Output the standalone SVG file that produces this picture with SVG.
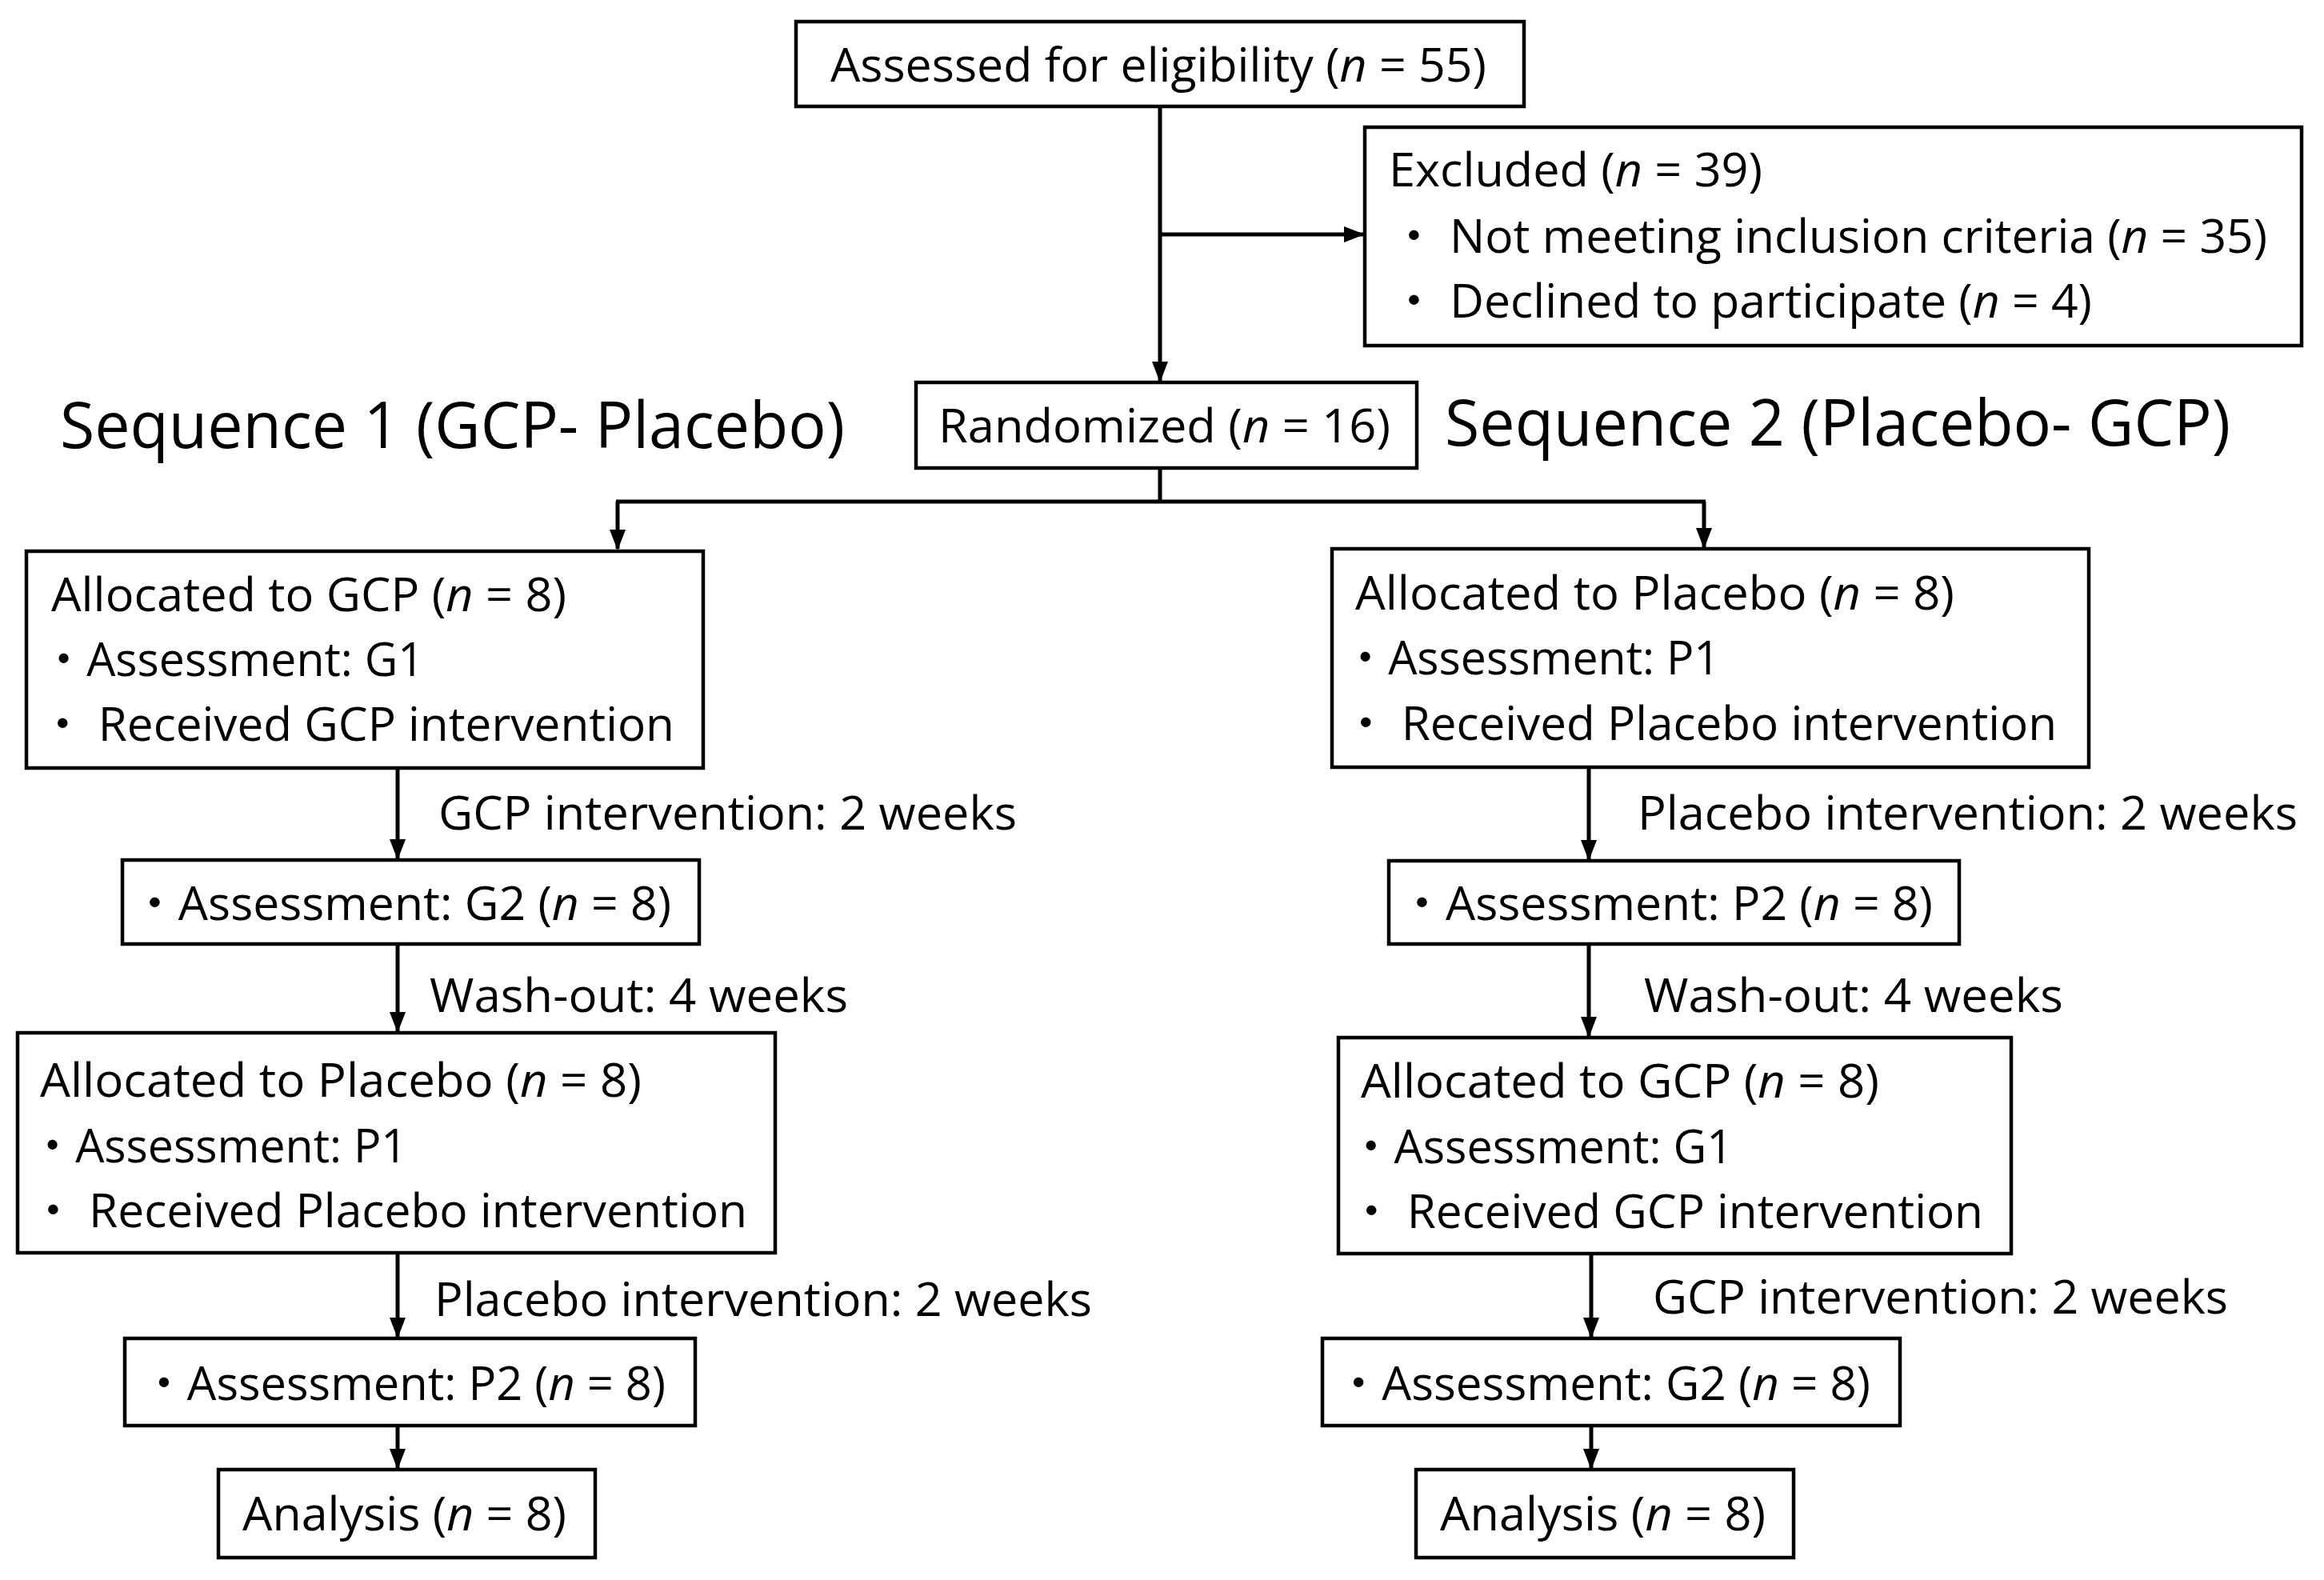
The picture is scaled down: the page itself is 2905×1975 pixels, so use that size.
<svg xmlns="http://www.w3.org/2000/svg" width="2905" height="1975" viewBox="0 0 2905 1975">
<defs>
<style>
.box{fill:#fff;stroke:#000;stroke-width:4.5}
.t{font-family:"Open Sans","Noto Sans CJK JP",sans-serif;font-size:58px;fill:#000}
.h{font-family:"Open Sans","Liberation Sans",sans-serif;font-size:80px;fill:#000}
.i{font-style:italic}
.c{fill:none;stroke:#000;stroke-width:5}
</style>
<marker id="ar" markerUnits="userSpaceOnUse" markerWidth="26" markerHeight="20" refX="24" refY="10" orient="auto" viewBox="0 0 26 20">
<path d="M0,0 L26,10 L0,20 Z" fill="#000"/>
</marker>
</defs>
<rect width="2905" height="1975" fill="#fff"/>

<g id="connectors">
<path class="c" d="M1450,133 V476" marker-end="url(#ar)"/>
<path class="c" d="M1450,293 H1704" marker-end="url(#ar)"/>
<path class="c" d="M1450,585 V627 M770,627 H2132"/>
<path class="c" d="M772,627 V686" marker-end="url(#ar)"/>
<path class="c" d="M2130,627 V684" marker-end="url(#ar)"/>
<path class="c" d="M497,960 V1073" marker-end="url(#ar)"/>
<path class="c" d="M497,1180 V1289" marker-end="url(#ar)"/>
<path class="c" d="M497,1566 V1671" marker-end="url(#ar)"/>
<path class="c" d="M497,1782 V1835" marker-end="url(#ar)"/>
<path class="c" d="M1986,959 V1074" marker-end="url(#ar)"/>
<path class="c" d="M1986,1180 V1295" marker-end="url(#ar)"/>
<path class="c" d="M1989,1567 V1671" marker-end="url(#ar)"/>
<path class="c" d="M1989,1782 V1835" marker-end="url(#ar)"/>
</g>

<g id="labels">
<text class="h" x="75" y="560" textLength="981" lengthAdjust="spacingAndGlyphs">Sequence 1 (GCP- Placebo)</text>
<text class="h" x="1806" y="557" textLength="982" lengthAdjust="spacingAndGlyphs">Sequence 2 (Placebo- GCP)</text>
<text class="t" x="548" y="1037" textLength="723" lengthAdjust="spacingAndGlyphs">GCP intervention: 2 weeks</text>
<text class="t" x="537" y="1265" textLength="523" lengthAdjust="spacingAndGlyphs">Wash-out: 4 weeks</text>
<text class="t" x="543" y="1645" textLength="822" lengthAdjust="spacingAndGlyphs">Placebo intervention: 2 weeks</text>
<text class="t" x="2047" y="1037" textLength="825" lengthAdjust="spacingAndGlyphs">Placebo intervention: 2 weeks</text>
<text class="t" x="2055" y="1265" textLength="524" lengthAdjust="spacingAndGlyphs">Wash-out: 4 weeks</text>
<text class="t" x="2066" y="1642" textLength="719" lengthAdjust="spacingAndGlyphs">GCP intervention: 2 weeks</text>
</g>

<g id="n-assessed">
<rect class="box" x="995" y="27" width="910" height="106"/>
<text class="t" x="1038" y="102" textLength="820" lengthAdjust="spacingAndGlyphs">Assessed for eligibility (<tspan class="i">n</tspan> = 55)</text>
</g>

<g id="n-excluded">
<rect class="box" x="1706" y="159" width="1171" height="273"/>
<text class="t" x="1736" y="233" textLength="467" lengthAdjust="spacingAndGlyphs">Excluded (<tspan class="i">n</tspan> = 39)</text>
<text class="t" x="1738" y="316" textLength="1096" lengthAdjust="spacingAndGlyphs">・ Not meeting inclusion criteria (<tspan class="i">n</tspan> = 35)</text>
<text class="t" x="1738" y="397" textLength="877" lengthAdjust="spacingAndGlyphs">・ Declined to participate (<tspan class="i">n</tspan> = 4)</text>
</g>

<g id="n-randomized">
<rect class="box" x="1145" y="478" width="626" height="107"/>
<text class="t" x="1173" y="553" textLength="565" lengthAdjust="spacingAndGlyphs">Randomized (<tspan class="i">n</tspan> = 16)</text>
</g>

<g id="n-left-gcp">
<rect class="box" x="33" y="689" width="846" height="271"/>
<text class="t" x="64" y="764" textLength="644" lengthAdjust="spacingAndGlyphs">Allocated to GCP (<tspan class="i">n</tspan> = 8)</text>
<text class="t" x="51" y="845" textLength="479" lengthAdjust="spacingAndGlyphs">・Assessment: G1</text>
<text class="t" x="49" y="926" textLength="794" lengthAdjust="spacingAndGlyphs">・ Received GCP intervention</text>
</g>

<g id="n-left-g2">
<rect class="box" x="153" y="1075" width="721" height="105"/>
<text class="t" x="164" y="1150" textLength="675" lengthAdjust="spacingAndGlyphs">・Assessment: G2 (<tspan class="i">n</tspan> = 8)</text>
</g>

<g id="n-left-placebo">
<rect class="box" x="22" y="1291" width="947" height="275"/>
<text class="t" x="50" y="1371" textLength="752" lengthAdjust="spacingAndGlyphs">Allocated to Placebo (<tspan class="i">n</tspan> = 8)</text>
<text class="t" x="37" y="1453" textLength="472" lengthAdjust="spacingAndGlyphs">・Assessment: P1</text>
<text class="t" x="37" y="1534" textLength="897" lengthAdjust="spacingAndGlyphs">・ Received Placebo intervention</text>
</g>

<g id="n-left-p2">
<rect class="box" x="156" y="1673" width="713" height="109"/>
<text class="t" x="176" y="1750" textLength="656" lengthAdjust="spacingAndGlyphs">・Assessment: P2 (<tspan class="i">n</tspan> = 8)</text>
</g>

<g id="n-left-analysis">
<rect class="box" x="273" y="1837" width="471" height="110"/>
<text class="t" x="303" y="1913" textLength="405" lengthAdjust="spacingAndGlyphs">Analysis (<tspan class="i">n</tspan> = 8)</text>
</g>

<g id="n-right-placebo">
<rect class="box" x="1665" y="686" width="946" height="273"/>
<text class="t" x="1694" y="762" textLength="749" lengthAdjust="spacingAndGlyphs">Allocated to Placebo (<tspan class="i">n</tspan> = 8)</text>
<text class="t" x="1678" y="843" textLength="472" lengthAdjust="spacingAndGlyphs">・Assessment: P1</text>
<text class="t" x="1678" y="925" textLength="893" lengthAdjust="spacingAndGlyphs">・ Received Placebo intervention</text>
</g>

<g id="n-right-p2">
<rect class="box" x="1736" y="1076" width="713" height="104"/>
<text class="t" x="1748" y="1150" textLength="668" lengthAdjust="spacingAndGlyphs">・Assessment: P2 (<tspan class="i">n</tspan> = 8)</text>
</g>

<g id="n-right-gcp">
<rect class="box" x="1673" y="1297" width="841" height="270"/>
<text class="t" x="1701" y="1372" textLength="648" lengthAdjust="spacingAndGlyphs">Allocated to GCP (<tspan class="i">n</tspan> = 8)</text>
<text class="t" x="1685" y="1454" textLength="481" lengthAdjust="spacingAndGlyphs">・Assessment: G1</text>
<text class="t" x="1685" y="1535" textLength="794" lengthAdjust="spacingAndGlyphs">・ Received GCP intervention</text>
</g>

<g id="n-right-g2">
<rect class="box" x="1653" y="1673" width="722" height="109"/>
<text class="t" x="1669" y="1750" textLength="669" lengthAdjust="spacingAndGlyphs">・Assessment: G2 (<tspan class="i">n</tspan> = 8)</text>
</g>

<g id="n-right-analysis">
<rect class="box" x="1770" y="1837" width="472" height="110"/>
<text class="t" x="1800" y="1913" textLength="407" lengthAdjust="spacingAndGlyphs">Analysis (<tspan class="i">n</tspan> = 8)</text>
</g>
</svg>
